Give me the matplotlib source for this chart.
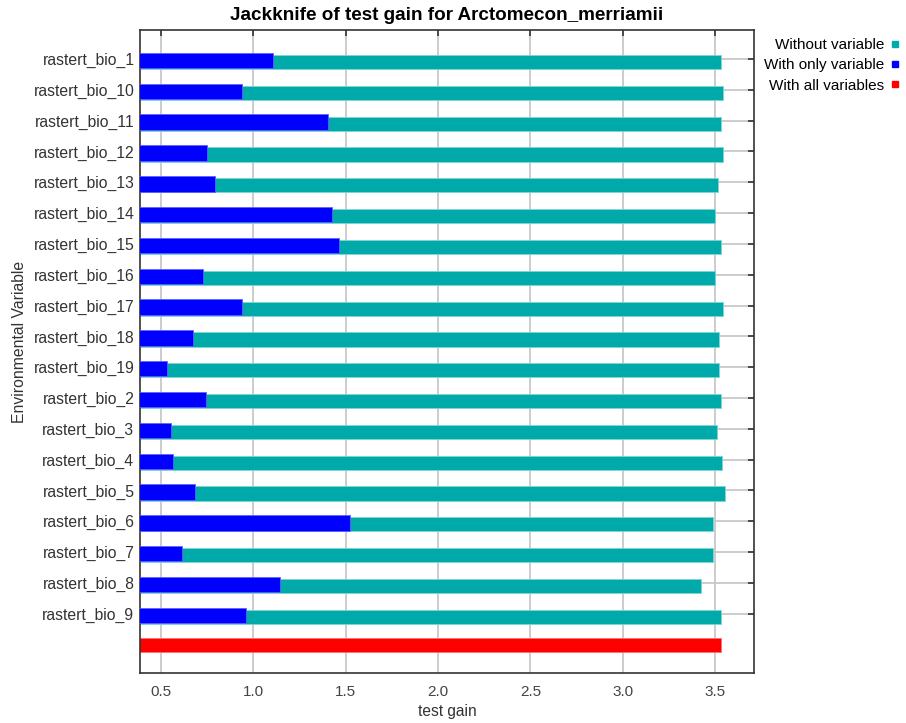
import matplotlib

matplotlib.use("Agg")
import matplotlib.pyplot as plt
from matplotlib.lines import Line2D

plt.rcParams["font.family"] = ["Liberation Sans", "DejaVu Sans"]

variables = ["rastert_bio_1", "rastert_bio_10", "rastert_bio_11", "rastert_bio_12",
             "rastert_bio_13", "rastert_bio_14", "rastert_bio_15", "rastert_bio_16",
             "rastert_bio_17", "rastert_bio_18", "rastert_bio_19", "rastert_bio_2",
             "rastert_bio_3", "rastert_bio_4", "rastert_bio_5", "rastert_bio_6",
             "rastert_bio_7", "rastert_bio_8", "rastert_bio_9"]
without_var = [3.529, 3.543, 3.529, 3.543, 3.514, 3.500, 3.529, 3.500, 3.543, 3.522,
               3.522, 3.529, 3.509, 3.536, 3.551, 3.487, 3.487, 3.422, 3.529]
only_var = [1.109, 0.941, 1.404, 0.750, 0.794, 1.426, 1.467, 0.729, 0.941, 0.673,
            0.532, 0.743, 0.554, 0.568, 0.687, 1.525, 0.617, 1.145, 0.961]
all_vars = 3.529

CYAN = "#00AAAA"
BLUE = "#0000FF"
RED = "#FF0000"

fig = plt.figure(figsize=(9.06, 7.23), dpi=100)
ax = fig.add_axes([0.1545, 0.0692, 0.6777, 0.8893])

ypos = list(range(len(variables)))
ax.barh([y + 0.1 for y in ypos], without_var, height=0.46, color=CYAN,
        edgecolor="#7fd4d4", linewidth=0.6, zorder=2)
ax.barh([y + 0.05 for y in ypos], only_var, height=0.5, color=BLUE,
        edgecolor="#6060ff", linewidth=0.6, zorder=3)
ax.barh([len(variables)], [all_vars], height=0.45, color=RED,
        edgecolor="#ff7070", linewidth=0.6, zorder=2)

ax.set_xlim(0.388, 3.71)
ax.set_ylim(19.92, -0.94)
ax.set_xticks([0.5, 1.0, 1.5, 2.0, 2.5, 3.0, 3.5])
ax.set_xticklabels(["0.5", "1.0", "1.5", "2.0", "2.5", "3.0", "3.5"])
ax.set_yticks(ypos)
ax.set_yticklabels(variables)

ax.grid(True, color="#c8c8c8", linewidth=1.3, zorder=0)
ax.set_axisbelow(True)

ax.tick_params(axis="x", which="both", top=True, bottom=False, direction="in",
               length=4, width=1.2, color="#333333", labelsize=11,
               labelcolor="#444444", pad=9)
ax.tick_params(axis="y", which="both", right=True, left=False, direction="in",
               length=4, width=1.2, color="#333333", labelsize=11.3,
               labelcolor="#333333", pad=4)
for s in ax.spines.values():
    s.set_color("#333333")
    s.set_linewidth(1.2)

ax.set_xlabel("test gain", fontsize=11.2, color="#333333", labelpad=3)
ax.set_ylabel("Environmental Variable", fontsize=11.3, color="#333333")
ax.yaxis.set_label_coords(-0.184, 0.5155)
ax.set_title("Jackknife of test gain for Arctomecon_merriamii", fontsize=13.6,
             fontweight="bold", pad=7)

handles = [Line2D([], [], ls="none", marker="s", ms=5, color=CYAN),
           Line2D([], [], ls="none", marker="s", ms=5, color=BLUE),
           Line2D([], [], ls="none", marker="s", ms=5, color=RED)]
fig.legend(handles, ["Without variable", "With only variable", "With all variables"],
           loc="upper right", bbox_to_anchor=(1.0, 0.956), frameon=False,
           markerfirst=False, fontsize=11, handlelength=0.6, handletextpad=0.4,
           labelspacing=0.42, borderaxespad=0.0, borderpad=0.4)

fig.savefig("out.png", dpi=100)
